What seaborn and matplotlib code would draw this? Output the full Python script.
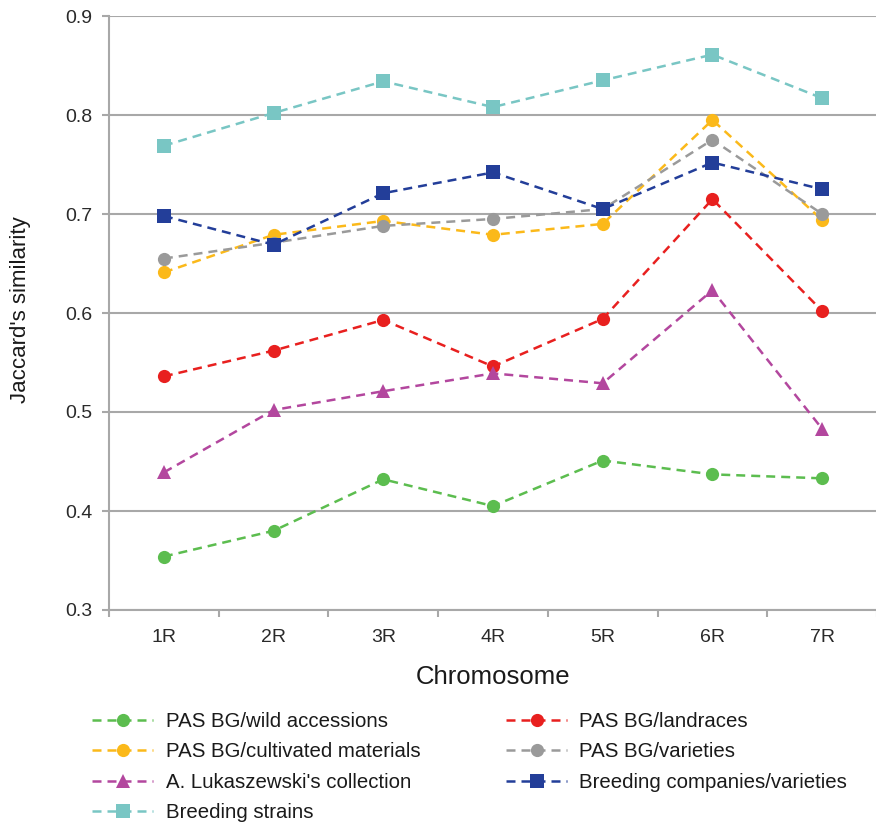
import matplotlib
matplotlib.use("Agg")
import matplotlib.pyplot as plt
import seaborn as sns
import pandas as pd
import numpy as np

chromosomes = ["1R", "2R", "3R", "4R", "5R", "6R", "7R"]

wild_accessions = [0.354, 0.380, 0.432, 0.405, 0.451, 0.437, 0.433]
landraces = [0.536, 0.562, 0.593, 0.546, 0.594, 0.715, 0.602]
cultivated_materials = [0.641, 0.679, 0.693, 0.679, 0.690, 0.795, 0.694]
pas_varieties = [0.655, 0.671, 0.688, 0.695, 0.705, 0.775, 0.700]
lukaszewski = [0.439, 0.502, 0.521, 0.539, 0.529, 0.623, 0.483]
breeding_companies = [0.698, 0.669, 0.721, 0.742, 0.705, 0.752, 0.725]
breeding_strains = [0.769, 0.802, 0.834, 0.808, 0.835, 0.861, 0.817]

series_names = [
    "PAS BG/wild accessions",
    "PAS BG/landraces",
    "PAS BG/cultivated materials",
    "PAS BG/varieties",
    "A. Lukaszewski's collection",
    "Breeding companies/varieties",
    "Breeding strains",
]
series_values = [wild_accessions, landraces, cultivated_materials, pas_varieties,
                 lukaszewski, breeding_companies, breeding_strains]

colors = {
    "PAS BG/wild accessions": "#5cbd4f",
    "PAS BG/landraces": "#e8201f",
    "PAS BG/cultivated materials": "#fbb91a",
    "PAS BG/varieties": "#9a9a9a",
    "A. Lukaszewski's collection": "#b3479e",
    "Breeding companies/varieties": "#233e99",
    "Breeding strains": "#79c6c4",
}
markers = {
    "PAS BG/wild accessions": "o",
    "PAS BG/landraces": "o",
    "PAS BG/cultivated materials": "o",
    "PAS BG/varieties": "o",
    "A. Lukaszewski's collection": "^",
    "Breeding companies/varieties": "s",
    "Breeding strains": "s",
}
dashes = {name: (3.6, 2.4) for name in series_names}

rows = []
for name, vals in zip(series_names, series_values):
    for c, v in zip(chromosomes, vals):
        rows.append({"Chromosome": c, "value": v, "series": name})
df = pd.DataFrame(rows)

sns.set_theme(style="white")
plt.rcParams["font.family"] = ["Liberation Sans", "DejaVu Sans"]

fig = plt.figure(figsize=(8.76, 8.27), dpi=100)
W, H = 876, 827
ax = fig.add_axes([109 / W, (H - 610) / H, 768 / W, 594 / H])

sns.lineplot(data=df, x="Chromosome", y="value", hue="series", style="series",
             hue_order=series_names, style_order=series_names,
             palette=colors, markers=markers, dashes=dashes,
             markersize=9.5, linewidth=1.8, markeredgewidth=0, ax=ax, legend=True)

ax.set_xlim(-0.5, 6.5)
ax.set_ylim(0.3, 0.9)
ax.set_yticks([0.3, 0.4, 0.5, 0.6, 0.7, 0.8, 0.9])
ax.set_yticklabels(["0.3", "0.4", "0.5", "0.6", "0.7", "0.8", "0.9"])
ax.set_xticks(range(len(chromosomes)))
ax.set_xticklabels(chromosomes)
ax.set_xticks(np.arange(-0.5, 7.0, 1.0), minor=True)

grid_color = "#a8a8a8"
ax.yaxis.grid(True, color=grid_color, linewidth=1.5)
ax.xaxis.grid(False)
ax.set_axisbelow(True)
for s in ["top", "right"]:
    ax.spines[s].set_visible(False)
for s in ["left", "bottom"]:
    ax.spines[s].set_color(grid_color)
    ax.spines[s].set_linewidth(1.5)

ax.tick_params(axis="y", which="major", left=True, length=5, width=1.5,
               color=grid_color, labelsize=14, labelcolor="#2a2a2a", pad=7)
ax.tick_params(axis="x", which="major", bottom=False, length=0,
               labelsize=14, labelcolor="#2a2a2a", pad=14)
ax.tick_params(axis="x", which="minor", bottom=True, length=5, width=1.5,
               color=grid_color)

ax.set_xlabel("Chromosome", fontsize=18.5, color="#1a1a1a")
ax.xaxis.set_label_coords(0.5, -0.092)
ax.set_ylabel("Jaccard's similarity", fontsize=16, color="#1a1a1a")
ax.yaxis.set_label_coords(-0.102, 0.505)

handles, labels = ax.get_legend_handles_labels()
ax.get_legend().remove()
hmap = dict(zip(labels, handles))
order = [
    "PAS BG/wild accessions",
    "PAS BG/cultivated materials",
    "A. Lukaszewski's collection",
    "Breeding strains",
    "PAS BG/landraces",
    "PAS BG/varieties",
    "Breeding companies/varieties",
]
leg = fig.legend([hmap[k] for k in order], order, loc="upper left",
                 bbox_to_anchor=(92 / W, 1 - 712 / H), ncol=2, frameon=False,
                 fontsize=14.7, handlelength=3.0, handletextpad=0.6,
                 labelspacing=0.56, columnspacing=4.2, borderpad=0,
                 borderaxespad=0)
for t in leg.get_texts():
    t.set_color("#1a1a1a")

fig.savefig("out.png", dpi=100)
